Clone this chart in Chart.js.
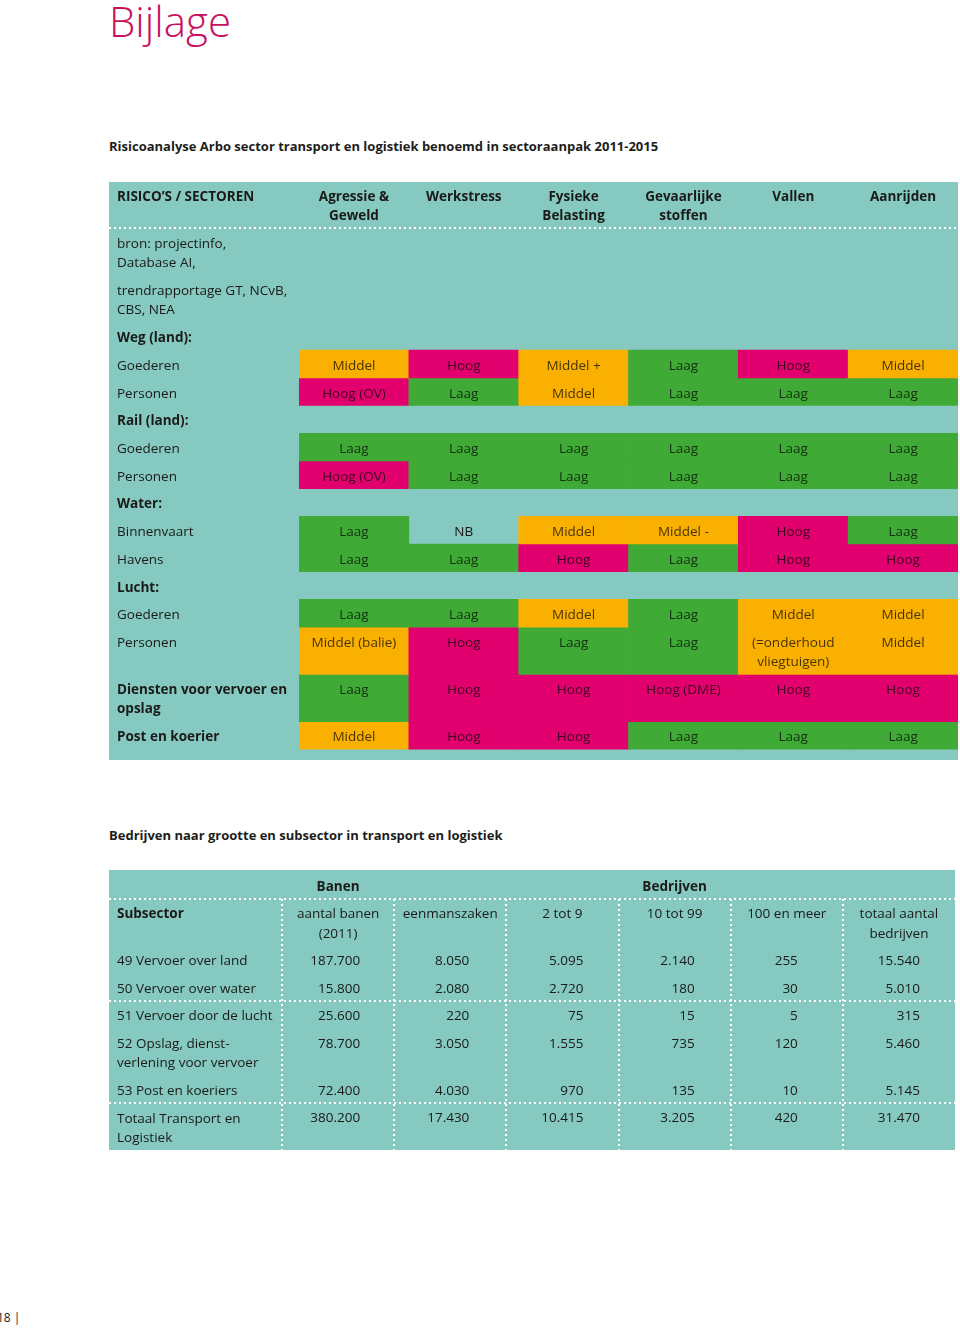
<!DOCTYPE html>
<html><head><meta charset="utf-8">
<script src="https://cdn.jsdelivr.net/npm/chart.js@4.4.1/dist/chart.umd.min.js"></script>
<style>
html,body{margin:0;padding:0;background:#fff;}
body{width:960px;height:1328px;position:relative;overflow:hidden;font-family:'Open Sans',sans-serif;color:#1d1d1b;}
.abs{position:absolute;white-space:nowrap;}
#title{left:109px;top:0;font-size:42px;line-height:42px;font-weight:300;color:#C8105F;}
.sub{font-size:13px;font-weight:700;line-height:20px;}
#sub1{left:109px;top:136px;}
#sub2{left:109px;top:825px;}
canvas{position:absolute;display:block;}
#t1{left:109px;top:182px;}
#t2{left:109px;top:870px;}
#foot{left:-3px;top:1310px;font-size:12px;line-height:16px;}
</style></head><body>
<div id="title" class="abs">Bijlage</div>
<div id="sub1" class="abs sub">Risicoanalyse Arbo sector transport en logistiek benoemd in sectoraanpak 2011-2015</div>
<canvas id="t1" width="849" height="578"></canvas>
<div id="sub2" class="abs sub">Bedrijven naar grootte en subsector in transport en logistiek</div>
<canvas id="t2" width="846" height="280"></canvas>
<div id="foot" class="abs">18 |</div>
<script>
// ---------- Table 1 data ----------
const risks = [['Agressie &','Geweld'], 'Werkstress', ['Fysieke','Belasting'], ['Gevaarlijke','stoffen'], 'Vallen', 'Aanrijden'];
const sectorLabels = [['bron: projectinfo,','Database AI,'], ['trendrapportage GT, NCvB,','CBS, NEA'], 'Weg (land):',
  'Goederen','Personen','Rail (land):','Goederen','Personen','Water:','Binnenvaart','Havens','Lucht:','Goederen','Personen',
  ['Diensten voor vervoer en','opslag'],'Post en koerier'];
const sectorBold = [false,false,true,false,false,true,false,false,true,false,false,true,false,false,true,true];
const riskTexts = [
  null, null, null,
  ['Middel','Hoog','Middel +','Laag','Hoog','Middel'],
  ['Hoog (OV)','Laag','Middel','Laag','Laag','Laag'],
  null,
  ['Laag','Laag','Laag','Laag','Laag','Laag'],
  ['Hoog (OV)','Laag','Laag','Laag','Laag','Laag'],
  null,
  ['Laag','NB','Middel','Middel -','Hoog','Laag'],
  ['Laag','Laag','Hoog','Laag','Hoog','Hoog'],
  null,
  ['Laag','Laag','Middel','Laag','Middel','Middel'],
  ['Middel (balie)','Hoog','Laag','Laag',['(=onderhoud','vliegtuigen)'],'Middel'],
  ['Laag','Hoog','Hoog','Hoog (DME)','Hoog','Hoog'],
  ['Middel','Hoog','Hoog','Laag','Laag','Laag']
];
const riskLevels = [
  null, null, null,
  ['M','H','M','L','H','M'],
  ['H','L','M','L','L','L'],
  null,
  ['L','L','L','L','L','L'],
  ['H','L','L','L','L','L'],
  null,
  ['L','','M','M','H','L'],
  ['L','L','H','L','H','H'],
  null,
  ['L','L','M','L','M','M'],
  ['M','H','L','L','M','M'],
  ['L','H','H','H','H','H'],
  ['M','H','H','L','L','L']
];

// ---------- Table 2 data ----------
const columns = ['aantal banen (2011)','eenmanszaken','2 tot 9','10 tot 99','100 en meer','totaal aantal bedrijven'];
const columnHeads = [['aantal banen','(2011)'],'eenmanszaken','2 tot 9','10 tot 99','100 en meer',['totaal aantal','bedrijven']];
const groupHeads = ['Banen','','','Bedrijven','',''];
const subsectors = ['49 Vervoer over land','50 Vervoer over water','51 Vervoer door de lucht',
  ['52 Opslag, dienst-','verlening voor vervoer'],'53 Post en koeriers',['Totaal Transport en','Logistiek']];
const banen = [187700,15800,25600,78700,72400,380200];
const eenmanszaken = [8050,2080,220,3050,4030,17430];
const tot9 = [5095,2720,75,1555,970,10415];
const tot99 = [2140,180,15,735,135,3205];
const meer100 = [255,30,5,120,10,420];
const totaalBedrijven = [15540,5010,315,5460,5145,31470];

// ---------- styling ----------
const FONT = "'Open Sans', sans-serif";
const FS = 13.5;
const TEXT = '#1a1a18';
const CELL_TEXT = 'rgba(0,0,0,0.72)';
const TEAL = '#85C9C0';
const LEVEL_COLORS = {L:'#40AA36', M:'#FAB000', H:'#E2006F', '':'rgba(0,0,0,0)'};
const LINE_PAD = 0.42;
Chart.defaults.font.family = FONT;
Chart.defaults.font.size = FS;
Chart.defaults.color = TEXT;

const nLines = v => Array.isArray(v) ? v.length : 1;
const asLines = v => Array.isArray(v) ? v : [v];
const fmt = n => String(n).replace(/\B(?=(\d{3})+(?!\d))/g, '.');

function layoutRows(labels, cells) {
  let y = 0;
  return labels.map((lab, i) => {
    let n = nLines(lab);
    (cells[i] || []).forEach(c => { n = Math.max(n, nLines(c)); });
    const r = {start: y, end: y + n + LINE_PAD, labelLines: nLines(lab)};
    y = r.end;
    return r;
  });
}

const bgPlugin = {
  id: 'bg',
  beforeDraw(chart) {
    const c = chart.ctx; c.save(); c.fillStyle = TEAL; c.fillRect(0, 0, chart.width, chart.height); c.restore();
  }
};
function dottedLine(ctx, x0, x1, y) {
  ctx.save(); ctx.strokeStyle = '#ffffff'; ctx.lineWidth = 2; ctx.setLineDash([2, 3]);
  ctx.beginPath(); ctx.moveTo(x0, y); ctx.lineTo(x1, y); ctx.stroke(); ctx.restore();
}

// ---------- Table 1 ----------
(function(){
  const TEXT_OFF = 0.82;
  const rows = layoutRows(sectorLabels, riskTexts);
  const total = rows[rows.length - 1].end + 0.55;
  const tickVals = rows.map(r => r.start + TEXT_OFF + (r.labelLines - 1) / 2);
  const datasets = [];
  riskLevels.forEach((lv, i) => {
    if (!lv) return;
    datasets.push({
      label: asLines(sectorLabels[i]).join(' '),
      rowIndex: i,
      data: lv.map(() => [rows[i].start, rows[i].end]),
      backgroundColor: lv.map(l => LEVEL_COLORS[l]),
      borderWidth: 0, grouped: false, categoryPercentage: 1, barPercentage: 1
    });
  });
  const cellText = {
    id: 'cellText',
    afterDatasetsDraw(chart) {
      const ctx = chart.ctx, ys = chart.scales.y;
      ctx.save();
      ctx.font = `${FS}px ${FONT}`; ctx.textAlign = 'center'; ctx.textBaseline = 'middle';
      chart.data.datasets.forEach((ds, di) => {
        const meta = chart.getDatasetMeta(di), r = ds.rowIndex;
        meta.data.forEach((bar, j) => {
          ctx.fillStyle = riskLevels[r][j] ? CELL_TEXT : TEXT;
          asLines(riskTexts[r][j]).forEach((ln, k) => {
            ctx.fillText(ln, bar.x, ys.getPixelForValue(rows[r].start + TEXT_OFF + k));
          });
        });
      });
      dottedLine(ctx, 0, chart.width, chart.chartArea.top);
      ctx.fillStyle = TEXT; ctx.font = `bold ${FS}px ${FONT}`; ctx.textAlign = 'left';
      const xs = chart.scales.x;
      const lbl = xs._labelItems ? xs._labelItems[0] : null;
      const hy = lbl ? lbl.options.translation[1] + lbl.textOffset : 14;
      ctx.fillText('RISICO\u2019S / SECTOREN', 8, hy);
      ctx.restore();
    }
  };
  new Chart(document.getElementById('t1'), {
    type: 'bar',
    data: {labels: risks, datasets},
    options: {
      responsive: false, animation: false,
      layout: {padding: {left: 8, top: 0, right: 0, bottom: 0}},
      plugins: {legend: {display: false}, tooltip: {enabled: false}},
      scales: {
        x: {
          type: 'category', position: 'top', offset: true,
          grid: {display: false, drawTicks: false}, border: {display: false},
          ticks: {font: {family: FONT, size: FS, weight: 'bold', lineHeight: '19px'}, color: TEXT,
                  crossAlign: 'far', padding: 2.5, maxRotation: 0, minRotation: 0, autoSkip: false},
          afterFit: s => { s.height = 46; s.paddingLeft = 0; s.paddingRight = 0; }
        },
        y: {
          type: 'linear', reverse: true, min: 0, max: total,
          grid: {display: false, drawTicks: false}, border: {display: false},
          afterBuildTicks: s => { s.ticks = tickVals.map(v => ({value: v})); },
          ticks: {
            autoSkip: false, padding: 0, crossAlign: 'far', color: TEXT,
            callback: (v, i) => sectorLabels[i],
            font: c => ({family: FONT, size: FS, weight: sectorBold[c.index] ? 'bold' : 'normal', lineHeight: '19px'})
          },
          afterFit: s => { s.width = 182; s.paddingTop = 0; s.paddingBottom = 0; }
        }
      }
    },
    plugins: [bgPlugin, cellText]
  });
})();

// ---------- Table 2 ----------
(function(){
  const TEXT_OFF = 0.8;
  const valueCols = [banen, eenmanszaken, tot9, tot99, meer100, totaalBedrijven];
  const rowLabels = ['Subsector'].concat(subsectors);
  const cellRows = [columnHeads].concat(subsectors.map((s, i) => valueCols.map(col => fmt(col[i]))));
  const rows = layoutRows(rowLabels, cellRows);
  const total = rows[rows.length - 1].end;
  const tickVals = rows.map(r => r.start + TEXT_OFF + (r.labelLines - 1) / 2);
  const insets = [34, 37, 35, 36, 45, 35];
  const ruleRows = [0, 3, 6];
  const datasets = cellRows.map((cells, i) => ({
    label: asLines(rowLabels[i]).join(' '),
    rowIndex: i,
    data: cells.map(() => [rows[i].start, rows[i].end]),
    backgroundColor: 'rgba(0,0,0,0)',
    borderWidth: 0, grouped: false, categoryPercentage: 1, barPercentage: 1
  }));
  const cellText = {
    id: 'cellText2',
    afterDatasetsDraw(chart) {
      const ctx = chart.ctx, ys = chart.scales.y;
      ctx.save();
      ctx.font = `${FS}px ${FONT}`; ctx.textBaseline = 'middle'; ctx.fillStyle = TEXT;
      chart.data.datasets.forEach((ds, di) => {
        const meta = chart.getDatasetMeta(di), r = ds.rowIndex;
        meta.data.forEach((bar, j) => {
          let x;
          if (r === 0) { ctx.textAlign = 'center'; x = bar.x; }
          else { ctx.textAlign = 'right'; x = bar.x + bar.width / 2 - insets[j]; }
          asLines(cellRows[r][j]).forEach((ln, k) => {
            ctx.fillText(ln, x, ys.getPixelForValue(rows[r].start + TEXT_OFF + k));
          });
        });
      });
      ruleRows.forEach(r => dottedLine(ctx, 0, chart.width, ys.getPixelForValue(rows[r].start)));
      ctx.restore();
    }
  };
  new Chart(document.getElementById('t2'), {
    type: 'bar',
    data: {labels: columns, datasets},
    options: {
      responsive: false, animation: false,
      layout: {padding: {left: 8, top: 0, right: 0, bottom: 0}},
      plugins: {legend: {display: false}, tooltip: {enabled: false}},
      scales: {
        x: {
          type: 'category', position: 'top', offset: true,
          grid: {display: true, offset: true, drawTicks: false, lineWidth: 2,
                 color: c => (c.type === 'tick' && c.index < columns.length ? '#ffffff' : 'rgba(0,0,0,0)')},
          border: {display: false, dash: [2, 3]},
          ticks: {font: {family: FONT, size: FS, weight: 'bold', lineHeight: '19px'}, color: TEXT,
                  crossAlign: 'far', padding: 2.5, maxRotation: 0, minRotation: 0, autoSkip: false,
                  callback: (v, i) => groupHeads[i]},
          afterFit: s => { s.height = 29; s.paddingLeft = 0; s.paddingRight = 0; }
        },
        y: {
          type: 'linear', reverse: true, min: 0, max: total,
          grid: {display: false, drawTicks: false}, border: {display: false},
          afterBuildTicks: s => { s.ticks = tickVals.map(v => ({value: v})); },
          ticks: {
            autoSkip: false, padding: 0, crossAlign: 'far', color: TEXT,
            callback: (v, i) => rowLabels[i],
            font: c => ({family: FONT, size: FS, weight: c.index === 0 ? 'bold' : 'normal', lineHeight: '19px'})
          },
          afterFit: s => { s.width = 165; s.paddingTop = 0; s.paddingBottom = 0; }
        }
      }
    },
    plugins: [bgPlugin, cellText]
  });
})();
</script>
</body></html>
